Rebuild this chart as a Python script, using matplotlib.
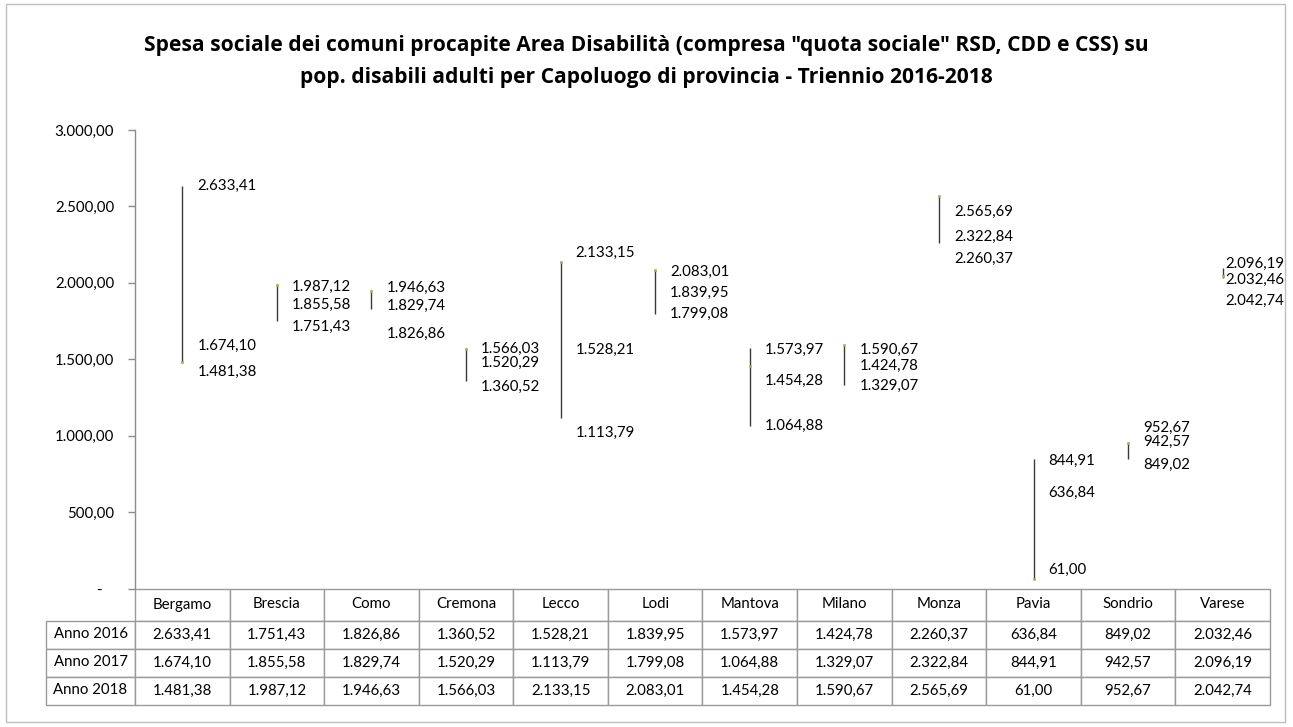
import matplotlib
matplotlib.use("Agg")
import matplotlib.pyplot as plt
from matplotlib.patches import Rectangle
from matplotlib.ticker import FuncFormatter, FixedLocator

# ---- data ----
cities = ["Bergamo", "Brescia", "Como", "Cremona", "Lecco", "Lodi",
          "Mantova", "Milano", "Monza", "Pavia", "Sondrio", "Varese"]
years = ["Anno 2016", "Anno 2017", "Anno 2018"]
anno_2016 = [2633.41, 1751.43, 1826.86, 1360.52, 1528.21, 1839.95,
             1573.97, 1424.78, 2260.37, 636.84, 849.02, 2032.46]
anno_2017 = [1674.10, 1855.58, 1829.74, 1520.29, 1113.79, 1799.08,
             1064.88, 1329.07, 2322.84, 844.91, 942.57, 2096.19]
anno_2018 = [1481.38, 1987.12, 1946.63, 1566.03, 2133.15, 2083.01,
             1454.28, 1590.67, 2565.69, 61.00, 952.67, 2042.74]
y_ticks = [0, 500, 1000, 1500, 2000, 2500, 3000]
title_lines = ['Spesa sociale dei comuni procapite Area Disabilità (compresa "quota sociale" RSD, CDD e CSS) su',
               'pop. disabili adulti per Capoluogo di provincia - Triennio 2016-2018']

# label nudges (pixels, positive = downward), per series
nudge_2016 = [0, 6, 25, 6, -5, -14, 2, -5, 16, 2, 6, 2]
nudge_2017 = [13, 0, -3, 7, 15, 0, 0, 1, 3, 2, -3, -4]
nudge_2018 = [10, 2, -3, 0, -10, 2, 15, 4, 16, -9, -15, 25]
label_dx = [15] * 11 + [3]

W, H = 1293, 727
FONT = "Lato"
TITLE_FONT = "Open Sans"
plt.rcParams["font.family"] = [FONT, "DejaVu Sans"]


def it_fmt(v):
    s = f"{v:,.2f}"
    return s.replace(",", "X").replace(".", ",").replace("X", ".")


fig = plt.figure(figsize=(W / 100, H / 100), dpi=100)
fig.patch.set_facecolor("white")

# outer chart border
fig.add_artist(Rectangle((6 / W, 1 - 722 / H), (1285 - 6) / W, (722 - 4) / H,
                         transform=fig.transFigure, fill=False,
                         edgecolor="#bfbfbf", lw=1.0))

# title
for k, yy in enumerate((45, 77)):
    fig.text(0.5, 1 - yy / H, title_lines[k], ha="center", va="center",
             fontsize=15.1, fontweight="bold", color="#000000",
             family=[TITLE_FONT, "DejaVu Sans"])

# axes
x0, x1 = 135, 1270
ytop, ybot = 130, 588.5
AW, AH = x1 - x0, ybot - ytop
ax = fig.add_axes([x0 / W, 1 - ybot / H, AW / W, AH / H])
n = len(cities)
xs = list(range(n))
ax.set_xlim(-0.5, n - 0.5)
ax.set_ylim(0, 3000)

lows = [min(a, b, c) for a, b, c in zip(anno_2016, anno_2017, anno_2018)]
highs = [max(a, b, c) for a, b, c in zip(anno_2016, anno_2017, anno_2018)]
ax.vlines(xs, lows, highs, color="#3a3a3a", lw=1.0)
ax.plot(xs, anno_2018, ls="none", marker="s", ms=2.0, color="#9bbb59",
        mec="#9bbb59", mew=0.5)

for series, nudge in ((anno_2016, nudge_2016), (anno_2017, nudge_2017),
                      (anno_2018, nudge_2018)):
    for i, v in enumerate(series):
        ax.annotate(it_fmt(v), (i, v), xytext=(label_dx[i], -nudge[i]),
                    textcoords="offset pixels", ha="left", va="center",
                    fontsize=10.8, color="#000000")

ax.yaxis.set_major_locator(FixedLocator(y_ticks))
ax.yaxis.set_major_formatter(FuncFormatter(
    lambda v, p: "-   " if v == 0 else it_fmt(v)))
ax.tick_params(axis="y", direction="out", length=5, width=1,
               color="#8c8c8c", labelsize=10.8, labelcolor="#000000", pad=10)
ax.set_xticks([])
for s in ("top", "right", "bottom"):
    ax.spines[s].set_visible(False)
ax.spines["left"].set_color("#8c8c8c")
ax.spines["left"].set_linewidth(1)

# data table (sizes given in axes fractions)
col_w = 1.0 / n
row_lab_w = 81.7 / AW
head_h = 32 / AH
row_h = 28 / AH
tbl_h = head_h + 3 * row_h
cell_text = [[it_fmt(v) for v in row] for row in (anno_2016, anno_2017, anno_2018)]
tbl = ax.table(cellText=cell_text, rowLabels=years, colLabels=cities,
               cellLoc="center", rowLoc="center",
               bbox=[0, -tbl_h, 1, tbl_h])
tbl.auto_set_font_size(False)
for (r, c), cell in tbl.get_celld().items():
    cell.set_edgecolor("#9a9a9a")
    cell.set_linewidth(1)
    cell.set_text_props(fontsize=10.8, color="#000000")
    cell.set_height(head_h if r == 0 else row_h)
    cell.set_width(row_lab_w if c == -1 else col_w)

fig.savefig("out.png", dpi=100, facecolor="white")
